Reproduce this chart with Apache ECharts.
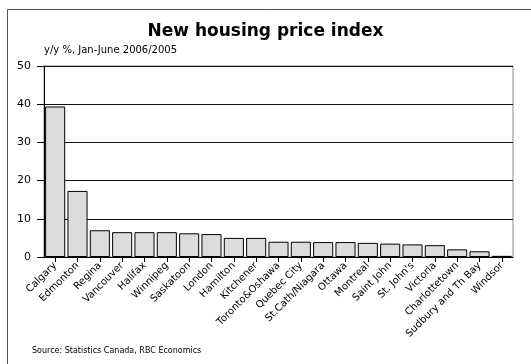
<!DOCTYPE html>
<html>
<head>
<meta charset="utf-8">
<script src="https://cdn.jsdelivr.net/npm/echarts@6/dist/echarts.min.js"></script>
<style>
  html, body { margin: 0; padding: 0; background: #fff; }
  #chart { width: 531px; height: 364px; }
</style>
</head>
<body>
<div id="chart"></div>
<script>
// New housing price index, y/y % change, Jan-June 2006 vs 2005
const cities = [
  'Calgary', 'Edmonton', 'Regina', 'Vancouver', 'Halifax', 'Winnipeg',
  'Saskatoon', 'London', 'Hamilton', 'Kitchener', 'Toronto&Oshawa',
  'Quebec City', 'St.Cath/Niagara', 'Ottawa', 'Montreal', 'Saint John',
  "St. John's", 'Victoria', 'Charlottetown', 'Sudbury and Th Bay', 'Windsor'
];
const yoyChange = [
  39.4, 17.3, 7.0, 6.5, 6.5, 6.5,
  6.2, 6.0, 5.0, 5.0, 4.0,
  4.0, 3.9, 3.9, 3.7, 3.5,
  3.3, 3.1, 2.0, 1.5, 0.3
];
const yTicks = [0, 10, 20, 30, 40, 50];

const FONT = "'DejaVu Sans', sans-serif";
const chart = echarts.init(document.getElementById('chart'), null, { renderer: 'canvas' });

chart.setOption({
  backgroundColor: '#fff',
  animation: false,
  title: [
    {
      text: 'New housing price index',
      left: 'center',
      top: 23,
      padding: 0,
      textStyle: { fontFamily: FONT, fontSize: 17, fontWeight: 'bold', color: '#000' }
    },
    {
      text: 'y/y %, Jan-June 2006/2005',
      left: 44,
      top: 45,
      padding: 0,
      textStyle: { fontFamily: FONT, fontSize: 10, fontWeight: 'normal', color: '#000' }
    },
    {
      text: 'Source: Statistics Canada, RBC Economics',
      left: 32,
      top: 347,
      padding: 0,
      textStyle: { fontFamily: FONT, fontSize: 8, fontWeight: 'normal', color: '#000' }
    }
  ],
  graphic: [
    {
      type: 'rect',
      shape: { x: 7.5, y: 9.5, width: 600, height: 400 },
      style: { fill: 'none', stroke: '#555', lineWidth: 1 },
      silent: true
    }
  ],
  grid: {
    left: 44, right: 18, top: 66, bottom: 107,
    show: true, borderColor: '#888', borderWidth: 1
  },
  xAxis: {
    type: 'category',
    data: cities,
    axisLine: { show: true, lineStyle: { color: '#000', width: 1 } },
    axisTick: { show: true, alignWithLabel: true, length: 5, lineStyle: { color: '#000' } },
    axisLabel: {
      interval: 0, rotate: 45, margin: 7,
      fontFamily: FONT, fontSize: 10, color: '#000'
    },
    splitLine: { show: false }
  },
  yAxis: {
    type: 'value',
    min: yTicks[0],
    max: yTicks[yTicks.length - 1],
    interval: 10,
    axisLine: { show: true, lineStyle: { color: '#000', width: 1 } },
    axisTick: { show: true, length: 7, lineStyle: { color: '#000' } },
    axisLabel: { margin: 13, fontFamily: FONT, fontSize: 11, color: '#000' },
    splitLine: { show: true, lineStyle: { color: '#111', width: 1 } }
  },
  series: [
    {
      type: 'bar',
      data: yoyChange,
      barCategoryGap: '10%',
      itemStyle: { color: '#dcdcdc', borderColor: '#000', borderWidth: 1 }
    }
  ]
});
</script>
</body>
</html>
